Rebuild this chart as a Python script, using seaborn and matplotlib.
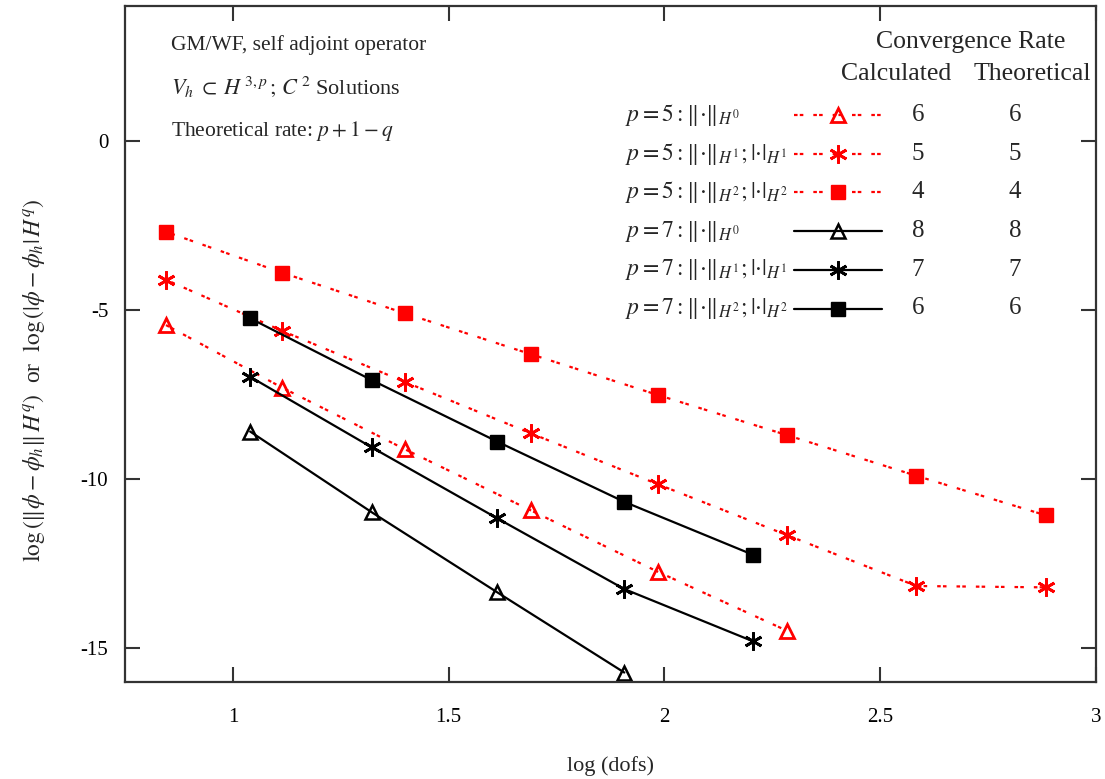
import numpy as np
import pandas as pd
import matplotlib
matplotlib.use("Agg")
import matplotlib.pyplot as plt
import seaborn as sns

# ---------------- data ----------------
x_p5 = [0.845, 1.114, 1.398, 1.690, 1.985, 2.285, 2.584, 2.884]
x_p7 = [1.040, 1.322, 1.613, 1.907, 2.206]

p5_H0 = [-5.44, -7.29, -9.11, -10.92, -12.74, -14.49]
p5_H1 = [-4.10, -5.61, -7.12, -8.64, -10.15, -11.66, -13.16, -13.20]
p5_H2 = [-2.68, -3.89, -5.09, -6.30, -7.51, -8.70, -9.90, -11.07]
p7_H0 = [-8.59, -10.98, -13.35, -15.72]
p7_H1 = [-6.97, -9.06, -11.16, -13.25, -14.80]
p7_H2 = [-5.24, -7.07, -8.89, -10.67, -12.24]

series_labels = [
    r"$p=5:\Vert{\cdot}\Vert_{H^0}$",
    r"$p=5:\Vert{\cdot}\Vert_{H^1};|{\cdot}|_{H^1}$",
    r"$p=5:\Vert{\cdot}\Vert_{H^2};|{\cdot}|_{H^2}$",
    r"$p=7:\Vert{\cdot}\Vert_{H^0}$",
    r"$p=7:\Vert{\cdot}\Vert_{H^1};|{\cdot}|_{H^1}$",
    r"$p=7:\Vert{\cdot}\Vert_{H^2};|{\cdot}|_{H^2}$",
]
rate_calculated = ["6", "5", "4", "8", "7", "6"]
rate_theoretical = ["6", "5", "4", "8", "7", "6"]

x_ticks = [1, 1.5, 2, 2.5, 3]
x_tick_labels = ["1", "1.5", "2", "2.5", "3"]
y_ticks = [0, -5, -10, -15]
y_tick_labels = ["0", "-5", "-10", "-15"]

# ---------------- style ----------------
sns.set_theme(style="ticks")
plt.rcParams["font.family"] = ["Liberation Serif", "DejaVu Serif"]
plt.rcParams["mathtext.fontset"] = "stix"
plt.rcParams["axes.unicode_minus"] = False

fig = plt.figure(figsize=(11.05, 7.79), dpi=100)
ax = fig.add_axes([125 / 1105, 97 / 779, 971 / 1105, 676 / 779])

RED = "#ff0000"
BLACK = "#000000"
dotted = (0, (1.6, 1.0, 1.6, 4.5))

specs = [
    (x_p5[:len(p5_H0)], p5_H0, RED, dotted, "^", "none", 10, 2.0),
    (x_p5[:len(p5_H1)], p5_H1, RED, dotted, (6, 2, 0), RED, 13, 2.0),
    (x_p5[:len(p5_H2)], p5_H2, RED, dotted, "s", RED, 10.5, 1.0),
    (x_p7[:len(p7_H0)], p7_H0, BLACK, "-", "^", "none", 10, 1.8),
    (x_p7[:len(p7_H1)], p7_H1, BLACK, "-", (6, 2, 0), BLACK, 13, 2.0),
    (x_p7[:len(p7_H2)], p7_H2, BLACK, "-", "s", BLACK, 10.5, 1.0),
]

handles = []
for xs, ys, col, ls, mk, mfc, ms, mew in specs:
    df = pd.DataFrame({"x": xs, "y": ys})
    sns.lineplot(data=df, x="x", y="y", ax=ax, color=col, linestyle=ls,
                 linewidth=1.6, marker=mk, markersize=ms, markerfacecolor=mfc,
                 markeredgecolor=col, markeredgewidth=mew, errorbar=None,
                 sort=False)
    handles.append(ax.lines[-1])

ax.set_xlim(0.75, 3.0)
ax.set_ylim(-16, 4)
ax.set_xticks(x_ticks)
ax.set_xticklabels(x_tick_labels)
ax.set_yticks(y_ticks)
ax.set_yticklabels(y_tick_labels)
ax.tick_params(axis="both", direction="in", length=11, width=1.5,
               colors="#333333", labelcolor="black", labelsize=15,
               top=True, right=True)
ax.tick_params(axis="x", pad=19)
ax.tick_params(axis="y", pad=12)
for s in ax.spines.values():
    s.set_linewidth(1.6)
    s.set_color("#333333")

ax.set_xlabel("log (dofs)", fontsize=16, labelpad=21)
ax.set_ylabel(r"$\log\left(\Vert\phi-\phi_h\Vert\, H^q\right)$  or  "
              r"$\log\left(|\phi-\phi_h|\, H^q\right)$",
              fontsize=17)
ax.yaxis.set_label_coords((47 - 125) / 971, 1 - (380 - 6) / 676)

# top-left annotations
ax.text(0.047, 1 - (45 - 6) / 676, "GM/WF, self adjoint operator",
        transform=ax.transAxes, fontsize=15.5, va="center", ha="left")
ax.text(0.047, 1 - (87 - 6) / 676,
        r"$V_h\;\subset\;H^{\,3,p}\,;\,C^{\,2}$ Solutions",
        transform=ax.transAxes, fontsize=16, va="center", ha="left")
ax.text(0.047, 1 - (131 - 6) / 676, r"Theoretical rate: $p+1-q$",
        transform=ax.transAxes, fontsize=15.5, va="center", ha="left")

# column headers
ax.text((971 - 125) / 971, 1 - (42 - 6) / 676, "Convergence Rate",
        transform=ax.transAxes, fontsize=18.5, ha="center", va="center")
ax.text((896 - 125) / 971, 1 - (74 - 6) / 676, "Calculated",
        transform=ax.transAxes, fontsize=18.5, ha="center", va="center")
ax.text((1032 - 125) / 971, 1 - (74 - 6) / 676, "Theoretical",
        transform=ax.transAxes, fontsize=18.5, ha="center", va="center")

# legend: handles only, labels and rates written beside each row
fs = 14
target = 38.7
first_row = 115
anchor = ((794 - 125) / 971, 1 - (109 - 6) / 676)


def make_legend(sp, anc):
    return ax.legend(handles, [""] * len(handles), loc="upper left",
                     bbox_to_anchor=anc, frameon=False, fontsize=fs,
                     handlelength=4.55, handletextpad=0, borderpad=0,
                     borderaxespad=0, labelspacing=sp)


lab_sp = 0.9
leg = make_legend(lab_sp, anchor)
fig.canvas.draw()
r = fig.canvas.get_renderer()
H = fig.bbox.height
ys = [np.mean(h.get_window_extent(r).get_points()[:, 1]) for h in leg.legend_handles]
meas = (ys[0] - ys[-1]) / (len(ys) - 1)
lab_sp = lab_sp + (target - meas) / (fs * 100 / 72)
# shift so that the first row sits on the reference position
top_px = H - ys[0]
anchor = (anchor[0], anchor[1] - (first_row - top_px) / 676)
leg.remove()
leg = make_legend(lab_sp, anchor)
fig.canvas.draw()
inv = ax.transAxes.inverted()
for h, lab, rc, rt in zip(leg.legend_handles, series_labels,
                          rate_calculated, rate_theoretical):
    pts = h.get_window_extent(r).get_points()
    ya = inv.transform((0, pts[:, 1].mean()))[1]
    ax.text((625 - 125) / 971, ya, lab, transform=ax.transAxes,
            fontsize=17, ha="left", va="center")
    ax.text((918 - 125) / 971, ya, rc, transform=ax.transAxes,
            fontsize=18, ha="center", va="center")
    ax.text((1015 - 125) / 971, ya, rt, transform=ax.transAxes,
            fontsize=18, ha="center", va="center")

fig.savefig("out.png", dpi=100)
